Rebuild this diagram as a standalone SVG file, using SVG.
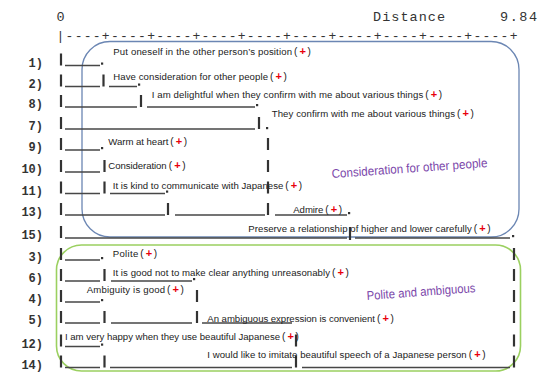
<svg xmlns="http://www.w3.org/2000/svg" width="543" height="374" viewBox="0 0 543 374">
<style>
.hdr{font-family:"Liberation Mono","DejaVu Sans Mono",monospace;font-size:13.5px;fill:#333}
.axis{font-family:"Liberation Mono","DejaVu Sans Mono",monospace;font-size:13px;fill:#333}
.lbl{font-family:"Liberation Mono","DejaVu Sans Mono",monospace;font-weight:bold;font-size:12px;fill:#333;text-anchor:end}
.t{font-family:"Liberation Sans",Arial,sans-serif;font-size:9.6px;fill:#222}
.pa{font-size:10px}
.p{fill:#e8000b;font-weight:bold;font-size:11px}
.cl{font-family:"Liberation Sans",Arial,sans-serif;font-size:12.5px;fill:#7b47aa}
.u{stroke:#474747;stroke-width:1.6;fill:none}
.b{stroke:#333;stroke-width:2.2;fill:none}
.d{fill:#333}
.box{fill:none}
</style>

<!-- header and axis -->
<g id="header">
<text class="hdr" x="56.5" y="20.5">0</text>
<text class="hdr" x="373" y="20.5" textLength="72" lengthAdjust="spacing">Distance</text>
<text class="hdr" x="500" y="20.5" textLength="37" lengthAdjust="spacing">9.84</text>
<text class="axis" x="56.5" y="39.5" textLength="461" lengthAdjust="spacing">|----+----+----+----+----+----+----+----+----+----+</text>
</g>

<!-- cluster boxes -->
<g id="cluster-consideration">
<rect class="box" x="82" y="41.5" width="437" height="195.5" rx="28" stroke="#6b86b3" stroke-width="1.3"/>
<text class="cl" x="332" y="178" transform="rotate(-4.06 332 178)" textLength="156" lengthAdjust="spacingAndGlyphs">Consideration for other people</text>
</g>
<g id="cluster-polite">
<rect class="box" x="56.5" y="245" width="464" height="126" rx="25" stroke="#9bd060" stroke-width="1.6"/>
<text class="cl" x="367" y="300" transform="rotate(-4.2 367 300)" textLength="109" lengthAdjust="spacingAndGlyphs">Polite and ambiguous</text>
</g>

<!-- connectors (dendrogram) -->
<g id="connectors">
<path class="u" d="M65 65.5H100 M65 86.5H100 M109 86.5H137 M65 107H137 M147 107H255 M65 129H255 M65 150H100 M65 172H100 M65 193.5H100 M110 193.5H165 M65 215H165 M175 215H265 M275 215H347 M65 238H347 M355 238H510 M65 260H100 M65 281H100 M111 281H192 M65 302H100 M65 323H100 M111 323H192 M202 323H292 M65 346.5H100 M65 367.5H100 M110 367.5H292 M302 367.5H510"/>
<path class="b" d="M61 53.5V65.5 M61 74.5V86.5 M61 95V107 M61 117V129 M61 138V150 M61 160V172 M61 181.5V193.5 M61 203V215 M61 226V238 M61 248V260 M61 269V281 M61 290V302 M61 311V323 M61 334.5V346.5 M61 355.5V367.5
M103.5 74.5V86.5 M141 95V107 M259 117V129 M268 138V150 M268 160V172 M268 181.5V193.5 M268 203V215 M104.5 160V172 M104.5 181.5V193.5 M168 203V215 M350 227V240
M104.5 269V281 M104.5 311V323 M104.5 355.5V367.5 M197 290V302 M197 311V323 M296 334.5V346.5 M296 355.5V367.5
M514 248V260 M514 269V281 M514 290V302 M514 311V323 M514 334.5V346.5 M514 355.5V367.5"/>
<g class="d">
<rect x="101" y="62.5" width="2.2" height="2.2"/>
<rect x="138" y="83.5" width="2.2" height="2.2"/>
<rect x="256" y="104" width="2.2" height="2.2"/>
<rect x="266" y="127" width="2.2" height="2.2"/>
<rect x="101" y="147" width="2.2" height="2.2"/>
<rect x="166" y="190.5" width="2.2" height="2.2"/>
<rect x="348" y="212" width="2.2" height="2.2"/>
<rect x="512" y="235" width="2.2" height="2.2"/>
<rect x="101" y="257" width="2.2" height="2.2"/>
<rect x="193" y="278" width="2.2" height="2.2"/>
<rect x="101" y="299" width="2.2" height="2.2"/>
<rect x="101" y="343.5" width="2.2" height="2.2"/>
</g>
</g>

<!-- items -->
<g id="item-1"><text class="lbl" x="43" y="66.5">1)</text>
<text class="t" y="54.5"><tspan x="113.3" textLength="178.7" lengthAdjust="spacing">Put oneself in the other person’s position</tspan><tspan class="pa" x="294">(</tspan><tspan class="p" x="299.5">+</tspan><tspan class="pa" x="307.5">)</tspan></text></g>

<g id="item-2"><text class="lbl" x="43" y="87.5">2)</text>
<text class="t" y="80"><tspan x="113.3" textLength="154.7" lengthAdjust="spacing">Have consideration for other people</tspan><tspan class="pa" x="270">(</tspan><tspan class="p" x="275.5">+</tspan><tspan class="pa" x="283.5">)</tspan></text></g>

<g id="item-8"><text class="lbl" x="43" y="108">8)</text>
<text class="t" y="98"><tspan x="151.7" textLength="271.6" lengthAdjust="spacing">I am delightful when they confirm with me about various things</tspan><tspan class="pa" x="425.3">(</tspan><tspan class="p" x="430.8">+</tspan><tspan class="pa" x="438.8">)</tspan></text></g>

<g id="item-7"><text class="lbl" x="43" y="130">7)</text>
<text class="t" y="116.5"><tspan x="271.7" textLength="183.3" lengthAdjust="spacing">They confirm with me about various things</tspan><tspan class="pa" x="457">(</tspan><tspan class="p" x="462.5">+</tspan><tspan class="pa" x="470.5">)</tspan></text></g>

<g id="item-9"><text class="lbl" x="43" y="151">9)</text>
<text class="t" y="145"><tspan x="108.3" textLength="60" lengthAdjust="spacing">Warm at heart</tspan><tspan class="pa" x="170.3">(</tspan><tspan class="p" x="175.8">+</tspan><tspan class="pa" x="183.8">)</tspan></text></g>

<g id="item-10"><text class="lbl" x="43" y="173">10)</text>
<text class="t" y="169"><tspan x="108.3" textLength="58.4" lengthAdjust="spacing">Consideration</tspan><tspan class="pa" x="168.7">(</tspan><tspan class="p" x="174.2">+</tspan><tspan class="pa" x="182.2">)</tspan></text></g>

<g id="item-11"><text class="lbl" x="43" y="194.5">11)</text>
<text class="t" y="189"><tspan x="112.7" textLength="170.6" lengthAdjust="spacing">It is kind to communicate with Japanese</tspan><tspan class="pa" x="285.3">(</tspan><tspan class="p" x="290.8">+</tspan><tspan class="pa" x="298.8">)</tspan></text></g>

<g id="item-13"><text class="lbl" x="43" y="216">13)</text>
<text class="t" y="213"><tspan x="293.3" textLength="30" lengthAdjust="spacing">Admire</tspan><tspan class="pa" x="325.3">(</tspan><tspan class="p" x="330.8">+</tspan><tspan class="pa" x="338.8">)</tspan></text></g>

<g id="item-15"><text class="lbl" x="43" y="239">15)</text>
<text class="t" y="231.5"><tspan x="248.3" textLength="223.4" lengthAdjust="spacing">Preserve a relationship of higher and lower carefully</tspan><tspan class="pa" x="473.7">(</tspan><tspan class="p" x="479.2">+</tspan><tspan class="pa" x="487.2">)</tspan></text></g>

<g id="item-3"><text class="lbl" x="43" y="261">3)</text>
<text class="t" y="256.5"><tspan x="112.7" textLength="25.6" lengthAdjust="spacing">Polite</tspan><tspan class="pa" x="140.3">(</tspan><tspan class="p" x="145.8">+</tspan><tspan class="pa" x="153.8">)</tspan></text></g>

<g id="item-6"><text class="lbl" x="43" y="282">6)</text>
<text class="t" y="275.5"><tspan x="112.7" textLength="217.3" lengthAdjust="spacing">It is good not to make clear anything unreasonably</tspan><tspan class="pa" x="332">(</tspan><tspan class="p" x="337.5">+</tspan><tspan class="pa" x="345.5">)</tspan></text></g>

<g id="item-4"><text class="lbl" x="43" y="303">4)</text>
<text class="t" y="293"><tspan x="86.7" textLength="78.3" lengthAdjust="spacing">Ambiguity is good</tspan><tspan class="pa" x="167">(</tspan><tspan class="p" x="172.5">+</tspan><tspan class="pa" x="180.5">)</tspan></text></g>

<g id="item-5"><text class="lbl" x="43" y="324">5)</text>
<text class="t" y="322"><tspan x="207.3" textLength="167.7" lengthAdjust="spacing">An ambiguous expression is convenient</tspan><tspan class="pa" x="377">(</tspan><tspan class="p" x="382.5">+</tspan><tspan class="pa" x="390.5">)</tspan></text></g>

<g id="item-12"><text class="lbl" x="43" y="347.5">12)</text>
<text class="t" y="340"><tspan x="65" textLength="215" lengthAdjust="spacing">I am very happy when they use beautiful Japanese</tspan><tspan class="pa" x="282">(</tspan><tspan class="p" x="287.5">+</tspan><tspan class="pa" x="295.5">)</tspan></text></g>

<g id="item-14"><text class="lbl" x="43" y="368.5">14)</text>
<text class="t" y="358"><tspan x="207.3" textLength="259.4" lengthAdjust="spacing">I would like to imitate beautiful speech of a Japanese person</tspan><tspan class="pa" x="468.7">(</tspan><tspan class="p" x="474.2">+</tspan><tspan class="pa" x="482.2">)</tspan></text></g>
</svg>
